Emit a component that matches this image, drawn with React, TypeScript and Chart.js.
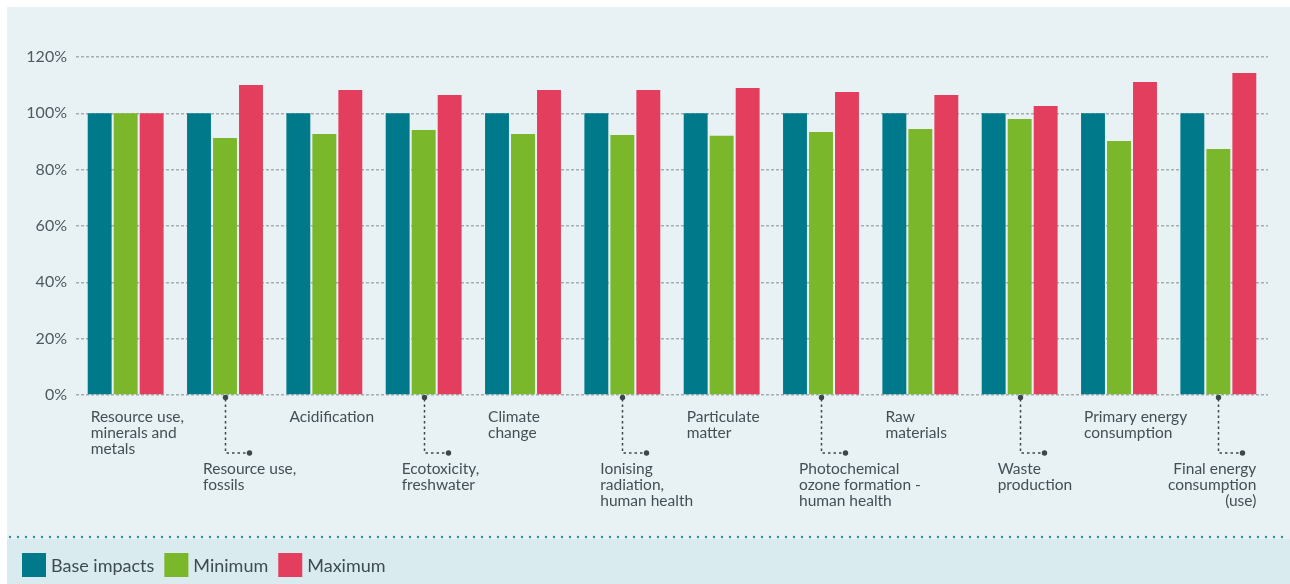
import React, { useEffect, useRef } from "react";
import { Chart, registerables } from "chart.js";

Chart.register(...registerables);

const categories: string[][] = [
  ["Resource use,", "minerals and", "metals"],
  ["Resource use,", "fossils"],
  ["Acidification"],
  ["Ecotoxicity,", "freshwater"],
  ["Climate", "change"],
  ["Ionising", "radiation,", "human health"],
  ["Particulate", "matter"],
  ["Photochemical", "ozone formation -", "human health"],
  ["Raw", "materials"],
  ["Waste", "production"],
  ["Primary energy", "consumption"],
  ["Final energy", "consumption", "(use)"],
];

const baseImpacts = [100, 100, 100, 100, 100, 100, 100, 100, 100, 100, 100, 100];
const minimum = [100, 91.2, 92.7, 94.1, 92.7, 92.3, 92.0, 93.4, 94.4, 98.0, 90.2, 87.3];
const maximum = [100, 110.1, 108.3, 106.5, 108.3, 108.3, 109.0, 107.6, 106.5, 102.6, 111.1, 114.3];

const seriesNames = ["Base impacts", "Minimum", "Maximum"];
const seriesColors = ["#007a8b", "#7ab72b", "#e33e5d"];

const FONT = "Lato, 'Noto Sans', sans-serif";
const TEXT = "#425056";

const decor = {
  id: "decor",
  beforeDraw(chart: any) {
    const ctx = chart.ctx;
    const W = chart.width;
    const H = chart.height;
    ctx.save();
    ctx.fillStyle = "#ffffff";
    ctx.fillRect(0, 0, W, H);
    ctx.fillStyle = "#e8f1f4";
    ctx.fillRect(7, 7, W - 7, 532);
    ctx.fillStyle = "#d9ebef";
    ctx.fillRect(7, 539, W - 7, H - 539);
    ctx.fillStyle = "#2a8e9c";
    for (let x = 10; x < W; x += 8) {
      ctx.beginPath();
      ctx.arc(x, 537, 1.2, 0, Math.PI * 2);
      ctx.fill();
    }
    ctx.restore();
  },
  afterDraw(chart: any) {
    const ctx = chart.ctx;
    const y0 = chart.scales.y.getPixelForValue(0);
    const mBase = chart.getDatasetMeta(0);
    const mMin = chart.getDatasetMeta(1);
    const mMax = chart.getDatasetMeta(2);
    ctx.save();
    ctx.font = `15.5px ${FONT}`;
    ctx.fillStyle = TEXT;
    ctx.textBaseline = "middle";
    categories.forEach((lines, i) => {
      const b: any = mBase.data[i];
      const left = b.x - b.width / 2;
      if (i % 2 === 0) {
        ctx.textAlign = "left";
        lines.forEach((t, k) => ctx.fillText(t, left + 3, y0 + 22 + k * 16));
      } else {
        const g: any = mMin.data[i];
        const gx = Math.round(g.x) + 0.5;
        const cy = y0 + 58;
        ctx.strokeStyle = "#3b474c";
        ctx.lineWidth = 1.5;
        ctx.setLineDash([2.5, 3]);
        ctx.beginPath();
        ctx.moveTo(gx, y0 + 4);
        ctx.lineTo(gx, cy);
        ctx.lineTo(gx + 23, cy);
        ctx.stroke();
        ctx.setLineDash([]);
        ctx.fillStyle = "#3b474c";
        ctx.beginPath();
        ctx.arc(gx, y0 + 2.5, 2.7, 0, Math.PI * 2);
        ctx.fill();
        ctx.beginPath();
        ctx.arc(gx + 24, cy, 2.7, 0, Math.PI * 2);
        ctx.fill();
        ctx.fillStyle = TEXT;
        if (i === categories.length - 1) {
          const r: any = mMax.data[i];
          ctx.textAlign = "right";
          lines.forEach((t, k) => ctx.fillText(t, r.x + r.width / 2, y0 + 74 + k * 16));
        } else {
          ctx.textAlign = "left";
          lines.forEach((t, k) => ctx.fillText(t, g.x - 22, y0 + 74 + k * 16));
        }
      }
    });
    ctx.font = `18px ${FONT}`;
    ctx.textAlign = "left";
    let x = 22;
    chart.data.datasets.forEach((ds: any) => {
      ctx.fillStyle = ds.backgroundColor;
      ctx.fillRect(x, 553, 24, 24);
      ctx.fillStyle = "#3e4b50";
      ctx.fillText(ds.label, x + 29, 566);
      x += 29 + ctx.measureText(ds.label).width + 10;
    });
    ctx.restore();
  },
};

export default function App() {
  const ref = useRef<HTMLCanvasElement | null>(null);
  useEffect(() => {
    document.body.style.margin = "0";
    const canvas = ref.current!;
    const chart = new Chart(canvas, {
      type: "bar",
      data: {
        labels: categories.map((c) => c.join(" ")),
        datasets: [baseImpacts, minimum, maximum].map((d, i) => ({
          label: seriesNames[i],
          data: d,
          backgroundColor: seriesColors[i],
          borderWidth: 0,
          categoryPercentage: 0.785,
          barPercentage: 0.92,
        })),
      },
      options: {
        responsive: false,
        animation: false,
        devicePixelRatio: 1,
        layout: { padding: { top: 57, bottom: 181, left: 0, right: 22 } },
        plugins: { legend: { display: false }, tooltip: { enabled: false } },
        scales: {
          x: {
            ticks: { display: false },
            grid: { display: false },
            border: { display: false },
          },
          y: {
            min: 0,
            max: 120,
            afterFit: (s: any) => {
              s.width = 76;
            },
            ticks: {
              stepSize: 20,
              padding: 9,
              color: "#4d5b61",
              font: { family: FONT, size: 16 },
              callback: (v: any) => `${v}%`,
            },
            grid: { color: "#a4adb0", lineWidth: 1.5, drawTicks: false },
            border: { display: false, dash: [3, 2] },
          },
        },
      },
      plugins: [decor],
    });
    return () => chart.destroy();
  }, []);
  return (
    <div style={{ width: 1290, height: 584 }}>
      <canvas ref={ref} width={1290} height={584} style={{ display: "block" }} />
    </div>
  );
}
